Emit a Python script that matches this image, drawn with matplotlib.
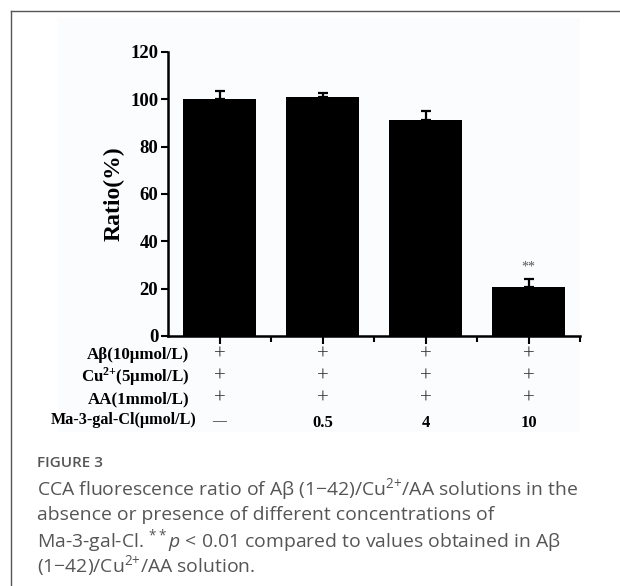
import matplotlib
matplotlib.use("Agg")
import matplotlib.pyplot as plt
from matplotlib.lines import Line2D
from matplotlib.patches import Rectangle

plt.rcParams["mathtext.fontset"] = "custom"
plt.rcParams["mathtext.bf"] = "Liberation Serif:bold"
plt.rcParams["mathtext.rm"] = "Liberation Serif"
plt.rcParams["mathtext.sf"] = "Open Sans"
plt.rcParams["mathtext.it"] = "Open Sans:italic"

# ---- data ----
groups = [1, 2, 3, 4]
ratio = [100.0, 100.8, 91.2, 20.8]
err = [3.4, 1.8, 4.0, 3.4]
row_labels = ["Aβ(10μmol/L)", "Cu$^{\\mathbf{2{+}}}$(5μmol/L)", "AA(1mmol/L)",
              "Ma-3-gal-Cl(μmol/L)"]
row_marks = [["+", "+", "+", "+"],
             ["+", "+", "+", "+"],
             ["+", "+", "+", "+"],
             ["—", "0.5", "4", "10"]]
yticks = [0, 20, 40, 60, 80, 100, 120]
signif = ["", "", "", "**"]

serif = ["Liberation Serif", "DejaVu Serif"]

fig = plt.figure(figsize=(6.2, 5.86), dpi=100)

# faint background of the embedded image and the page frame
fig.add_artist(Rectangle((58/620, 1-432/586), (580-58)/620, (432-18)/586,
                         transform=fig.transFigure, facecolor="#fafcfd",
                         edgecolor="none", zorder=-5))
fig.add_artist(Line2D([11/620, 11/620], [0, 1-11/586], transform=fig.transFigure,
                      color="#555555", lw=1.0))
fig.add_artist(Line2D([11/620, 1], [1-11/586, 1-11/586], transform=fig.transFigure,
                      color="#555555", lw=1.0))

ax = fig.add_axes([168/620, 1-336/586, (580-168)/620, (336-52)/586])
ax.patch.set_alpha(0)

ax.bar(groups, ratio, width=0.7, color="black", zorder=2)
ax.errorbar(groups, ratio, yerr=[[0]*4, err], fmt="none", ecolor="black",
            elinewidth=1.6, capsize=3.5, capthick=1.6, zorder=3)
for g, r, e, s in zip(groups, ratio, err, signif):
    if s:
        ax.text(g, r + e + 5.0, s, ha="center", va="center", fontsize=10,
                color="#555555", family=serif)

ax.set_xlim(0.5, 4.5)
ax.set_ylim(0, 120)
ax.set_yticks(yticks)
ax.set_yticklabels([str(v) for v in yticks], fontsize=13.5, fontweight="bold",
                   family=serif)
ax.set_xticks(groups)
ax.set_xticklabels([])
ax.set_xticks([1.5, 2.5, 3.5, 4.5], minor=True)
ax.tick_params(axis="x", which="major", length=6, width=1.5, direction="out")
ax.tick_params(axis="x", which="minor", length=4, width=1.5, direction="out")
ax.tick_params(axis="y", which="major", length=5, width=1.5, direction="out", pad=2)
for sp in ["top", "right"]:
    ax.spines[sp].set_visible(False)
for sp in ["left", "bottom"]:
    ax.spines[sp].set_linewidth(1.8)

ax.set_ylabel("Ratio(%)", fontsize=17, fontweight="bold", family=serif, labelpad=4)

# condition table below the axis
trans = ax.get_xaxis_transform()
row_y = [-0.067, -0.144, -0.222, -0.296]
row_right = [189, 189, 189, 196]
row_size = [12.2, 12.2, 12.2, 11.6]
for lab, marks, y, xr, fs in zip(row_labels, row_marks, row_y, row_right, row_size):
    ax.text((xr-168)/412, y, lab, transform=ax.transAxes, ha="right", va="center",
            fontsize=fs, fontweight="bold", family=serif)
    for g, m in zip(groups, marks):
        if m == "+":
            ax.text(g, y, m, transform=trans, ha="center", va="center",
                    fontsize=15, color="#333333", family=serif)
        elif m == "—":
            ax.text(g, y - 0.005, m, transform=trans, ha="center", va="center",
                    fontsize=10, color="#333333", family=serif)
        else:
            ax.text(g, y - 0.012, m, transform=trans, ha="center", va="center",
                    fontsize=12, fontweight="bold", family=serif)

# caption
cap_font = ["Open Sans", "DejaVu Sans"]
fig.text(37/620, 1-463/586, "FIGURE 3", fontsize=11, color="#555555",
         family=cap_font, fontweight="semibold", va="center", ha="left")
cap_lines = [
    "CCA fluorescence ratio of Aβ (1−42)/Cu$^{\\mathsf{2{+}}}$/AA solutions in the",
    "absence or presence of different concentrations of",
    "Ma-3-gal-Cl. $^{\\mathsf{**}}$$p$ < 0.01 compared to values obtained in Aβ",
    "(1−42)/Cu$^{\\mathsf{2{+}}}$/AA solution.",
]
cap_y = [489, 515, 541, 566]
for t, yy in zip(cap_lines, cap_y):
    fig.text(37/620, 1-yy/586, t, fontsize=13.95, color="#555555",
             family=cap_font, va="center", ha="left")

fig.savefig("out.png", dpi=100)
